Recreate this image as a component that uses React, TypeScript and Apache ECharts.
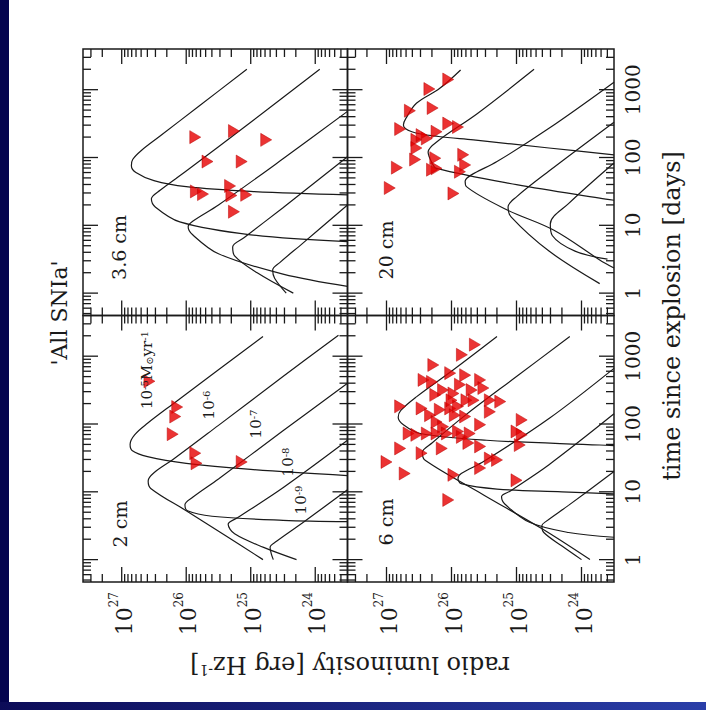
import React, { useEffect, useRef } from 'react';
import * as echarts from 'echarts';

// ---------- axis extents (log10 units) ----------
const LUM_EXP_RANGE = [23.5, 27.6];
const TIME_EXP_RANGE = [-0.33, 3.6];
const LUM_TICK_EXPONENTS = [24, 25, 26, 27];
const TIME_TICK_LABELS = ['1', '10', '100', '1000'];
const MINOR_STEPS = [2, 3, 4, 5, 6, 7, 8, 9];

const PANEL_LABELS = ['3.6 cm', '20 cm', '2 cm', '6 cm'];
const MDOT_EXPONENTS = ['-5', '-6', '-7', '-8', '-9'];

// ---------- model light curves: [log10 L, log10 t] ----------
const CURVES_3_6CM = [
  [[25.06, 3.30], [25.8, 2.76], [26.4, 2.32], [26.7, 2.10], [26.83, 1.97], [26.85, 1.88], [26.78, 1.78], [26.5, 1.66], [26.0, 1.57], [25.0, 1.50], [23.5, 1.45]],
  [[23.93, 3.30], [25.0, 2.52], [26.0, 1.80], [26.4, 1.52], [26.54, 1.39], [26.48, 1.27], [26.1, 1.05], [25.0, 0.86], [23.5, 0.76]],
  [[23.5, 2.68], [24.5, 1.98], [25.5, 1.30], [25.9, 1.06], [25.97, 0.98], [25.9, 0.86], [25.5, 0.58], [24.5, 0.28], [23.5, 0.10]],
  [[23.5, 2.01], [24.5, 1.26], [25.1, 0.82], [25.28, 0.68], [25.25, 0.55], [24.9, 0.30], [24.34, 0.0]],
  [[23.5, 1.30], [24.2, 0.73], [24.55, 0.45], [24.66, 0.34], [24.63, 0.22], [24.45, 0.0]],
];
const CURVES_20CM = [
  [[25.86, 3.29], [26.18, 3.02], [26.54, 2.80], [26.70, 2.58], [26.74, 2.48], [26.61, 2.38], [26.2, 2.31], [25.66, 2.26], [24.5, 2.14], [23.5, 2.04]],
  [[24.73, 3.30], [25.6, 2.65], [26.2, 2.25], [26.36, 2.08], [26.3, 1.92], [26.23, 1.84], [25.0, 1.60], [23.72, 1.40], [23.5, 1.37]],
  [[23.5, 3.11], [24.5, 2.43], [25.3, 1.94], [25.7, 1.74], [25.79, 1.65], [25.77, 1.57], [25.15, 1.23], [24.43, 0.93], [23.72, 0.49], [23.5, 0.37]],
  [[23.5, 2.52], [24.5, 1.80], [25.0, 1.42], [25.13, 1.27], [25.08, 1.12], [24.5, 0.62], [23.72, 0.14]],
  [[23.5, 1.92], [24.2, 1.32], [24.48, 1.02], [24.45, 0.85], [24.1, 0.62], [23.6, 0.50]],
];
const CURVES_2CM = [
  [[24.81, 3.29], [25.5, 2.80], [26.2, 2.30], [26.6, 2.01], [26.8, 1.84], [26.87, 1.70], [26.84, 1.61], [26.6, 1.52], [26.0, 1.42], [25.0, 1.33], [23.5, 1.24]],
  [[23.64, 3.31], [24.5, 2.70], [25.5, 1.98], [26.2, 1.48], [26.5, 1.28], [26.59, 1.16], [26.55, 1.05], [26.0, 0.72], [25.4, 0.36], [24.81, 0.0]],
  [[23.5, 2.60], [24.5, 1.90], [25.5, 1.19], [25.9, 0.92], [26.02, 0.81], [25.98, 0.72], [25.6, 0.64], [24.5, 0.58], [23.5, 0.56]],
  [[23.5, 1.76], [24.5, 1.06], [25.2, 0.62], [25.35, 0.52], [25.25, 0.38], [24.8, 0.18], [24.29, 0.0]],
  [[23.5, 1.03], [24.2, 0.54], [24.6, 0.27], [24.70, 0.18], [24.68, 0.08], [24.65, 0.0]],
];
const CURVES_6CM = [
  [[25.30, 3.29], [25.97, 2.80], [26.54, 2.40], [26.78, 2.20], [26.82, 2.10], [26.74, 1.99], [26.48, 1.86], [25.46, 1.76], [23.72, 1.69], [23.5, 1.68]],
  [[24.18, 3.29], [25.0, 2.70], [25.8, 2.12], [26.3, 1.72], [26.45, 1.58], [26.4, 1.46], [25.5, 0.95], [24.6, 0.45], [23.87, 0.0]],
  [[23.5, 2.82], [24.5, 2.08], [25.5, 1.45], [25.85, 1.27], [25.90, 1.20], [25.85, 1.12], [25.3, 1.04], [24.3, 1.0], [23.5, 0.97]],
  [[23.5, 2.15], [24.5, 1.40], [25.1, 1.01], [25.23, 0.93], [25.18, 0.82], [24.8, 0.55], [24.2, 0.40], [23.5, 0.33]],
  [[23.5, 1.30], [24.2, 0.80], [24.55, 0.56], [24.61, 0.50], [24.58, 0.40], [24.3, 0.2], [24.0, 0.0]],
];

// ---------- upper limits: [log10 L, log10 t] ----------
const LIMITS_3_6CM = [
  [25.86, 2.30], [25.26, 2.39], [24.76, 2.26], [25.67, 1.94], [25.14, 1.94], [25.85, 1.50],
  [25.74, 1.46], [25.32, 1.58], [25.30, 1.44], [25.07, 1.45], [25.26, 1.20],
];
const LIMITS_20CM = [
  [26.05, 3.15], [26.34, 3.01], [26.64, 2.69], [26.29, 2.73], [26.79, 2.42], [26.05, 2.50],
  [25.90, 2.45], [26.54, 2.26], [26.38, 2.28], [26.23, 2.38], [26.54, 2.14], [26.56, 1.97],
  [26.84, 1.85], [26.95, 1.55], [26.25, 1.99], [26.23, 1.84], [26.30, 1.82], [25.82, 2.04],
  [25.79, 1.89], [25.87, 1.79], [25.97, 1.47], [26.46, 2.33],
];
const LIMITS_2CM = [
  [26.57, 2.63], [26.14, 2.25], [26.17, 2.11], [26.21, 1.85], [25.86, 1.57], [25.84, 1.42], [25.14, 1.44],
];
const LIMITS_6CM = [
  [25.64, 3.17], [25.84, 3.02], [26.28, 2.87], [26.02, 2.75], [25.79, 2.72], [26.43, 2.65],
  [26.30, 2.62], [25.56, 2.65], [25.87, 2.58], [26.25, 2.43], [26.13, 2.50], [25.97, 2.45],
  [25.69, 2.50], [25.51, 2.53], [26.79, 2.26], [26.46, 2.23], [26.02, 2.23], [25.90, 2.26],
  [25.77, 2.35], [25.66, 2.35], [25.41, 2.35], [25.25, 2.33], [25.41, 2.18], [26.33, 2.13],
  [26.23, 2.03], [25.95, 2.13], [25.79, 2.11], [26.13, 1.96], [25.56, 1.99], [26.66, 1.86],
  [26.54, 1.84], [26.38, 1.86], [26.23, 1.86], [26.07, 1.86], [25.90, 1.89], [25.84, 1.81],
  [25.72, 1.86], [24.92, 2.06], [25.00, 1.89], [24.92, 1.84], [24.95, 1.69], [26.79, 1.64],
  [26.46, 1.57], [26.15, 1.64], [25.74, 1.72], [25.56, 1.67], [25.41, 1.49], [25.30, 1.47],
  [27.00, 1.44], [26.72, 1.27], [25.97, 1.25], [25.56, 1.35], [25.00, 1.17], [26.05, 0.88],
  [26.00, 2.35], [26.18, 2.21],
];

const PANEL_CURVES = [CURVES_3_6CM, CURVES_20CM, CURVES_2CM, CURVES_6CM];
const PANEL_LIMITS = [LIMITS_3_6CM, LIMITS_20CM, LIMITS_2CM, LIMITS_6CM];

const FONT = '"DejaVu Serif", "Liberation Serif", serif';
const INK = '#1a1a1a';

const GRIDS = [
  { left: 83, top: 49, width: 264.5, height: 266.5 },
  { left: 347.5, top: 49, width: 266.5, height: 266.5 },
  { left: 83, top: 315.5, width: 264.5, height: 266.5 },
  { left: 347.5, top: 315.5, width: 266.5, height: 266.5 },
];

const pow10 = (e: number) => Math.pow(10, e);
const LMIN = pow10(LUM_EXP_RANGE[0]);
const LMAX = pow10(LUM_EXP_RANGE[1]);
const TMIN = pow10(TIME_EXP_RANGE[0]);
const TMAX = pow10(TIME_EXP_RANGE[1]);

function buildTicks() {
  const items: number[][] = [];
  for (let d = Math.floor(LUM_EXP_RANGE[0]); d <= Math.ceil(LUM_EXP_RANGE[1]); d++) {
    [1, ...MINOR_STEPS].forEach((m) => {
      const e = Math.log10(m) + d;
      if (e > LUM_EXP_RANGE[0] + 0.01 && e < LUM_EXP_RANGE[1] - 0.01) {
        items.push([m * pow10(d), 10, m === 1 && LUM_TICK_EXPONENTS.includes(d) ? 0 : 1]);
      }
    });
  }
  for (let d = Math.floor(TIME_EXP_RANGE[0]); d <= Math.ceil(TIME_EXP_RANGE[1]); d++) {
    [1, ...MINOR_STEPS].forEach((m) => {
      const e = Math.log10(m) + d;
      if (e > TIME_EXP_RANGE[0] + 0.01 && e < TIME_EXP_RANGE[1] - 0.01) {
        items.push([1e25, m * pow10(d), m === 1 && TIME_TICK_LABELS.includes(String(Math.round(m * pow10(d)))) ? 2 : 3]);
      }
    });
  }
  return items;
}

function lumLabel(v: number) {
  const e = Math.log10(v);
  const r = Math.round(e);
  if (Math.abs(e - r) > 0.01 || !LUM_TICK_EXPONENTS.includes(r)) return '';
  return '{b|10}{s|' + r + '}';
}
function timeLabel(v: number) {
  const e = Math.log10(v);
  const r = Math.round(e);
  if (Math.abs(e - r) > 0.01) return '';
  const s = String(Math.round(v));
  return TIME_TICK_LABELS.includes(s) ? s : '';
}

export default function App() {
  const ref = useRef<HTMLDivElement>(null);
  useEffect(() => {
    if (!ref.current) return;
    const chart = echarts.init(ref.current, null, { renderer: 'svg' });
    const tickData = buildTicks();
    const xAxis: any[] = [];
    const yAxis: any[] = [];
    const series: any[] = [];
    GRIDS.forEach((_, i) => {
      xAxis.push({
        type: 'log', logBase: 10, gridIndex: i, min: LMIN, max: LMAX, inverse: true,
        axisLine: { show: false }, axisTick: { show: false }, splitLine: { show: false },
        axisLabel: {
          show: i >= 2, rotate: 90, margin: 10, formatter: lumLabel,
          rich: {
            b: { fontFamily: FONT, fontSize: 22, color: INK, lineHeight: 27, verticalAlign: 'bottom' },
            s: { fontFamily: FONT, fontSize: 12, color: INK, lineHeight: 13, verticalAlign: 'top' },
          },
        },
      });
      yAxis.push({
        type: 'log', logBase: 10, gridIndex: i, min: TMIN, max: TMAX,
        position: i % 2 === 1 ? 'right' : 'left',
        axisLine: { show: false }, axisTick: { show: false }, splitLine: { show: false },
        axisLabel: {
          show: i % 2 === 1, rotate: 90, margin: 9, formatter: timeLabel,
          fontFamily: FONT, fontSize: 20, color: INK,
        },
      });
      series.push({
        type: 'custom', xAxisIndex: i, yAxisIndex: i, data: tickData, silent: true, z: 5,
        renderItem: (_p: any, api: any) => {
          const kind = api.value(2);
          const len = kind === 0 || kind === 2 ? 15 : 8;
          const style = { stroke: INK, lineWidth: 1.3 };
          if (kind < 2) {
            const L = api.value(0);
            const a = api.coord([L, TMAX]);
            const b = api.coord([L, TMIN]);
            return {
              type: 'group', children: [
                { type: 'line', shape: { x1: a[0], y1: a[1], x2: a[0], y2: a[1] + len }, style },
                { type: 'line', shape: { x1: b[0], y1: b[1], x2: b[0], y2: b[1] - len }, style },
              ],
            };
          }
          const t = api.value(1);
          const a = api.coord([LMAX, t]);
          const b = api.coord([LMIN, t]);
          return {
            type: 'group', children: [
              { type: 'line', shape: { x1: a[0], y1: a[1], x2: a[0] + len, y2: a[1] }, style },
              { type: 'line', shape: { x1: b[0], y1: b[1], x2: b[0] - len, y2: b[1] }, style },
            ],
          };
        },
      });
      PANEL_CURVES[i].forEach((c) => {
        series.push({
          type: 'line', xAxisIndex: i, yAxisIndex: i, showSymbol: false, symbol: 'none',
          smooth: 0.35, silent: true, z: 3,
          lineStyle: { color: INK, width: 1.2 },
          data: c.map(([l, t]) => [pow10(l), pow10(t)]),
        });
      });
      series.push({
        type: 'scatter', xAxisIndex: i, yAxisIndex: i, z: 4,
        symbol: 'path://M0,0L10,6L0,12Z', symbolSize: [11, 13],
        itemStyle: { color: '#e60000', borderColor: '#b80000', borderWidth: 0.6 },
        data: PANEL_LIMITS[i].map(([l, t]) => [pow10(l), pow10(t)]),
      });
    });

    const rot = Math.PI / 2;
    const txt = (x: number, y: number, text: string, size: number, rotation: number, rich?: any) => ({
      type: 'text', x, y, rotation, z: 10,
      style: { text, font: `${size}px ${FONT}`, fill: INK, align: 'center', verticalAlign: 'middle', rich },
    });
    const supRich = (size: number) => ({
      s: { fontFamily: FONT, fontSize: size, fill: INK, color: INK, verticalAlign: 'top', lineHeight: size + 1 },
      u: { fontFamily: FONT, fontSize: size, fill: INK, color: INK, verticalAlign: 'bottom', lineHeight: size + 1 },
    });

    const panelPos = [[118.5, 247.5], [385.5, 250], [119.5, 524], [385.5, 522]];
    const mdotPos = [[147, 370], [209, 405], [256, 424], [288, 462], [301, 500]];

    chart.setOption({
      animation: false,
      backgroundColor: '#ffffff',
      grid: GRIDS.map((g) => ({ ...g, show: true, borderColor: INK, borderWidth: 1.5, backgroundColor: 'transparent' })),
      xAxis, yAxis, series,
      graphic: [
        { type: 'rect', shape: { x: 0, y: 0, width: 9, height: 710 }, style: { fill: '#04044e' }, z: 1 },
        {
          type: 'rect', shape: { x: 0, y: 702, width: 706, height: 8 }, z: 1,
          style: { fill: new echarts.graphic.LinearGradient(0, 0, 1, 0, [{ offset: 0, color: '#0c0c58' }, { offset: 1, color: '#2a3ea8' }]) },
        },
        txt(59, 313, "'All SNIa'", 22, rot),
        txt(672, 316, 'time since explosion [days]', 24, rot),
        txt(350, 665, 'radio luminosity [erg Hz{s|-1}]', 24, Math.PI, supRich(14)),
        ...PANEL_LABELS.map((p, i) => txt(panelPos[i][0], panelPos[i][1], p, 19, rot)),
        ...MDOT_EXPONENTS.map((e, i) =>
          txt(mdotPos[i][0], mdotPos[i][1], i === 0 ? '10{s|' + e + '}M{u|⊙}yr{s|-1}' : '10{s|' + e + '}', 15, rot, supRich(10))),
      ],
    });
    return () => chart.dispose();
  }, []);
  return <div ref={ref} style={{ position: 'absolute', left: 0, top: 0, width: 706, height: 710 }} />;
}
